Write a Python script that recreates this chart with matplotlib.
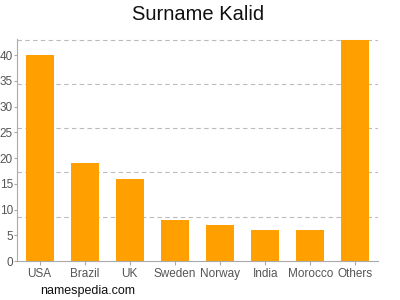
import numpy as np
import matplotlib.pyplot as plt

countries = ['USA', 'Brazil', 'UK', 'Sweden', 'Norway', 'India', 'Morocco', 'Others']
counts = [40, 19, 16, 8, 7, 6, 6, 43]
y_ticks = [0, 5, 10, 15, 20, 25, 30, 35, 40]

BAR_COLOUR = '#FFA000'
TEXT_COLOUR = '#555555'
AXIS_COLOUR = '#AAAAAA'

plt.rcParams['font.family'] = ['Liberation Sans', 'DejaVu Sans']

fig = plt.figure(figsize=(4, 3), dpi=100)
ax = fig.add_axes([17 / 400, 39 / 300, 361 / 400, 222 / 300])

x = np.arange(len(countries))
ax.bar(x, counts, width=0.62, color=BAR_COLOUR, zorder=2)

top = max(counts)
ax.set_xlim(-0.5, len(countries) - 0.5)
ax.set_ylim(0, top * 1.003)

# grid lines split the tallest bar in fifths
ax.set_yticks(y_ticks)
ax.set_yticks([top * i / 5 for i in range(1, 6)], minor=True)
ax.yaxis.grid(True, which='minor', linestyle=(0, (4, 3)), color='#BBBBBB', linewidth=0.8, zorder=1)
ax.tick_params(axis='y', which='minor', length=0)
ax.tick_params(axis='y', which='major', length=2, color=AXIS_COLOUR, labelsize=8.5, labelcolor=TEXT_COLOUR, pad=1)

ax.set_xticks(x)
ax.set_xticklabels(countries)
ax.tick_params(axis='x', length=3, color=AXIS_COLOUR, labelsize=8.5, labelcolor=TEXT_COLOUR, pad=2)

for side in ['top', 'right']:
    ax.spines[side].set_visible(False)
for side in ['left', 'bottom']:
    ax.spines[side].set_color(AXIS_COLOUR)

fig.text(0.495, 0.95, 'Surname Kalid', ha='center', va='center', fontsize=14.5, color='#111111')
fig.text(40 / 400, 1 - 291 / 300, 'namespedia.com', ha='left', va='center', fontsize=9, color='#111111')

fig.savefig('out.png', dpi=100)
